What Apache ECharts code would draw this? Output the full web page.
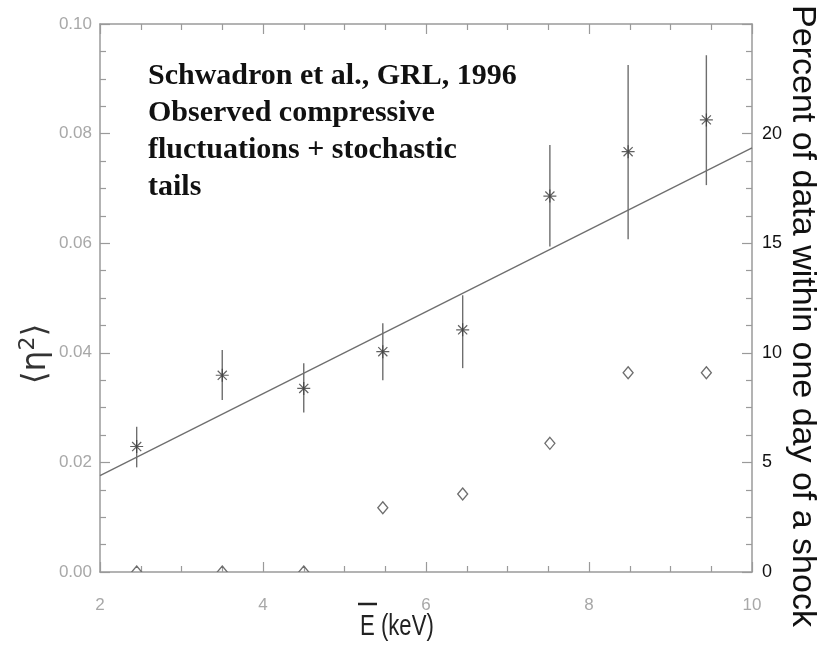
<!DOCTYPE html>
<html>
<head>
<meta charset="utf-8">
<script src="https://cdn.jsdelivr.net/npm/echarts@6/dist/echarts.min.js"></script>
<style>
  html, body { margin: 0; padding: 0; background: #fff; }
  #chart { width: 829px; height: 660px; }
</style>
</head>
<body>
<div id="chart"></div>
<script>
// Mean energy of each bin (keV)
const energy = [2.45, 3.5, 4.5, 5.47, 6.45, 7.52, 8.48, 9.44];
// <eta^2> with its error bar limits
const eta2 = [0.0229, 0.0359, 0.0335, 0.0402, 0.0442, 0.0686, 0.0767, 0.0825];
const eta2Low = [0.0191, 0.0314, 0.0291, 0.0350, 0.0372, 0.0594, 0.0607, 0.0706];
const eta2High = [0.0265, 0.0405, 0.0381, 0.0454, 0.0505, 0.0779, 0.0925, 0.0943];
// Percent of data within one day of a shock (right axis)
const percentNearShock = [0, 0, 0, 2.93, 3.56, 5.87, 9.09, 9.09];
// Linear fit
const fitX = [2, 10];
const fitY = [0.0176, 0.0774];
// Axis ticks
const xTicks = [2, 4, 6, 8, 10];
const leftTicks = ['0.00', '0.02', '0.04', '0.06', '0.08', '0.10'];
const rightTicks = ['0', '5', '10', '15', '20'];

const axisGray = '#9a9a9a';
const markGray = '#6e6e6e';

const chart = echarts.init(document.getElementById('chart'));

const asterisk = 'path://M0,-10L0,10M-10,0L10,0M-7,-7L7,7M-7,7L7,-7';

const xCommon = {
  type: 'value', min: xTicks[0], max: xTicks[xTicks.length - 1], interval: 2,
  axisLine: { show: true, onZero: false, lineStyle: { color: axisGray, width: 1.5 } },
  axisTick: { show: true, inside: true, length: 10, lineStyle: { color: axisGray, width: 1.2 } },
  minorTick: { show: true, splitNumber: 4, length: 6, lineStyle: { color: axisGray, width: 1.2 } },
  splitLine: { show: false }
};

chart.setOption({
  animation: false,
  grid: { left: 100, right: 77, top: 24, bottom: 88 },
  xAxis: [
    Object.assign({}, xCommon, {
      position: 'bottom',
      axisLabel: { color: '#a8a8a8', fontSize: 17, fontFamily: 'Liberation Sans', margin: 25 }
    }),
    Object.assign({}, xCommon, { position: 'top', axisLabel: { show: false } })
  ],
  yAxis: [
    {
      type: 'value', min: 0, max: 0.1, interval: 0.02, position: 'left',
      axisLine: { show: true, onZero: false, lineStyle: { color: axisGray, width: 1.5 } },
      axisTick: { show: true, inside: true, length: 10, lineStyle: { color: axisGray, width: 1.2 } },
      minorTick: { show: true, splitNumber: 4, length: 6, lineStyle: { color: axisGray, width: 1.2 } },
      splitLine: { show: false },
      axisLabel: {
        color: '#a8a8a8', fontSize: 17, fontFamily: 'Liberation Sans', margin: 8,
        formatter: v => leftTicks[Math.round(v / 0.02)]
      }
    },
    {
      type: 'value', min: 0, max: 25, interval: 5, position: 'right',
      axisLine: { show: true, onZero: false, lineStyle: { color: axisGray, width: 1.5 } },
      axisTick: { show: true, inside: true, length: 10, lineStyle: { color: axisGray, width: 1.2 } },
      minorTick: { show: true, splitNumber: 4, length: 6, lineStyle: { color: axisGray, width: 1.2 } },
      splitLine: { show: false },
      axisLabel: {
        color: '#111', fontSize: 18, fontFamily: 'Liberation Sans', margin: 10,
        formatter: v => (v <= 20 ? rightTicks[v / 5] : '')
      }
    }
  ],
  series: [
    {
      // fitted line
      type: 'line', xAxisIndex: 0, yAxisIndex: 0,
      data: fitX.map((x, i) => [x, fitY[i]]),
      symbol: 'none',
      lineStyle: { color: markGray, width: 1.3 },
      z: 2
    },
    {
      // error bars
      type: 'custom', xAxisIndex: 0, yAxisIndex: 0,
      data: energy.map((x, i) => [x, eta2Low[i], eta2High[i]]),
      renderItem: (params, api) => {
        const lo = api.coord([api.value(0), api.value(1)]);
        const hi = api.coord([api.value(0), api.value(2)]);
        return {
          type: 'line',
          shape: { x1: lo[0], y1: lo[1], x2: hi[0], y2: hi[1] },
          style: { stroke: markGray, lineWidth: 1.4 }
        };
      },
      z: 3
    },
    {
      // asterisks
      type: 'scatter', xAxisIndex: 0, yAxisIndex: 0,
      data: energy.map((x, i) => [x, eta2[i]]),
      symbol: asterisk, symbolSize: 13,
      itemStyle: { color: 'none', borderColor: '#3a3a3a', borderWidth: 1.2 },
      z: 4
    },
    {
      // diamonds on the percent axis
      type: 'custom', xAxisIndex: 0, yAxisIndex: 1, clip: true,
      data: energy.map((x, i) => [x, percentNearShock[i]]),
      renderItem: (params, api) => {
        const p = api.coord([api.value(0), api.value(1)]);
        const w = 5, h = 6;
        return {
          type: 'polygon',
          shape: { points: [[p[0], p[1] - h], [p[0] + w, p[1]], [p[0], p[1] + h], [p[0] - w, p[1]]] },
          style: { fill: 'none', stroke: markGray, lineWidth: 1.3 }
        };
      },
      z: 4
    }
  ],
  graphic: [
    {
      type: 'text', left: 148, top: 58,
      style: {
        text: 'Schwadron et al., GRL, 1996\nObserved compressive\nfluctuations + stochastic\ntails',
        font: 'bold 30px "Liberation Serif"', fill: '#111', lineHeight: 37
      }
    },
    {
      type: 'text', x: 36, y: 354, rotation: Math.PI / 2,
      style: {
        text: '⟨η{s|2}⟩',
        fontFamily: 'DejaVu Sans', fontSize: 33, fill: '#333',
        align: 'center', verticalAlign: 'middle',
        rich: { s: { fontFamily: 'DejaVu Sans', fontSize: 22, fill: '#333', verticalAlign: 'top', padding: [0, 0, 16, 0] } }
      }
    },
    {
      type: 'text', x: 802, y: 316, rotation: -Math.PI / 2,
      style: {
        text: 'Percent of data within one day of a shock',
        fontFamily: 'Liberation Sans', fontSize: 34, fill: '#111',
        align: 'center', verticalAlign: 'middle'
      }
    },
    {
      type: 'text', x: 360, y: 627, scaleX: 0.82, scaleY: 1.08,
      style: {
        text: 'E (keV)', fontFamily: 'Liberation Sans', fontSize: 27, fill: '#222',
        align: 'left', verticalAlign: 'middle'
      }
    },
    {
      type: 'line',
      shape: { x1: 358, y1: 604, x2: 377, y2: 604 },
      style: { stroke: '#222', lineWidth: 2.5 }
    }
  ]
});
</script>
</body>
</html>
